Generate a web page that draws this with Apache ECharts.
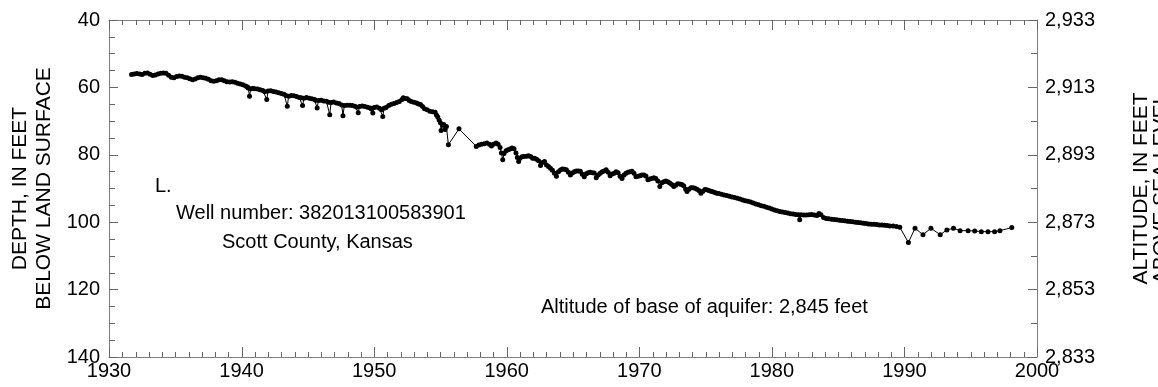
<!DOCTYPE html>
<html>
<head>
<meta charset="utf-8">
<title>Well 382013100583901 hydrograph</title>
<script src="https://cdn.jsdelivr.net/npm/echarts@6/dist/echarts.min.js"></script>
<style>
  html, body { margin: 0; padding: 0; background: #fff; }
  #chart { width: 1158px; height: 387px; }
</style>
</head>
<body>
<div id="chart"></div>
<script>
// water level measurements read off the hydrograph (year, depth in feet)
// 1932-1940: small seasonal swing
const yearsEarly = [
  1931.7, 1931.9, 1932.1, 1932.3, 1932.5, 1932.7, 1932.9, 1933.1, 1933.3, 1933.5,
  1933.7, 1933.9, 1934.1, 1934.3, 1934.5, 1934.7, 1934.9, 1935.1, 1935.3, 1935.5,
  1935.7, 1935.9, 1936.1, 1936.3, 1936.5, 1936.7, 1936.9, 1937.1, 1937.3, 1937.5,
  1937.7, 1937.9, 1938.1, 1938.3, 1938.5, 1938.7, 1938.9, 1939.1, 1939.3, 1939.5,
  1939.7, 1939.9, 1940.1, 1940.3, 1940.45
];
const depthsEarly = [
  56.2, 56.0, 55.9, 56.0, 56.2, 55.8, 55.7, 56.1, 56.5, 56.3,
  56.0, 55.8, 55.7, 55.8, 56.4, 57.0, 57.1, 56.8, 56.6, 56.7,
  57.0, 57.1, 57.4, 57.7, 57.5, 57.1, 57.0, 57.1, 57.3, 57.6,
  58.0, 58.2, 58.0, 57.7, 57.7, 58.0, 58.3, 58.4, 58.3, 58.5,
  58.8, 59.0, 59.2, 59.6, 59.9
];

// 1940-1958: pumping dips each summer, gap in the mid 1950s
const yearsMid = [
  1940.5, 1940.6, 1940.7, 1940.85, 1941.0, 1941.2, 1941.4, 1941.6, 1941.75, 1941.9,
  1942.0, 1942.2, 1942.4, 1942.6, 1942.8, 1943.0, 1943.2, 1943.35, 1943.45, 1943.55,
  1943.75, 1943.95, 1944.15, 1944.35, 1944.5, 1944.6, 1944.7, 1944.9, 1945.1, 1945.3,
  1945.5, 1945.6, 1945.7, 1945.8, 1946.0, 1946.2, 1946.4, 1946.55, 1946.65, 1946.75,
  1946.95, 1947.15, 1947.35, 1947.55, 1947.65, 1947.75, 1947.95, 1948.15, 1948.35, 1948.55,
  1948.7, 1948.8, 1948.9, 1949.1, 1949.3, 1949.5, 1949.7, 1949.8, 1949.9, 1950.0,
  1950.2, 1950.4, 1950.55, 1950.65, 1950.75, 1950.9, 1951.1, 1951.3, 1951.5, 1951.7,
  1951.9, 1952.1, 1952.2, 1952.35, 1952.5, 1952.65, 1952.8, 1953.0, 1953.2, 1953.35,
  1953.5, 1953.65, 1953.8, 1954.0, 1954.2, 1954.4, 1954.6, 1954.7, 1954.8, 1954.9,
  1955.0, 1955.05, 1955.15, 1955.25, 1955.35, 1955.45, 1955.6, 1956.4, 1957.7
];
const depthsMid = [
  60.2, 62.6, 60.4, 60.3, 60.4, 60.5, 60.7, 60.9, 61.3, 63.6,
  61.1, 61.0, 61.2, 61.4, 61.6, 61.8, 62.0, 62.4, 65.6, 62.6,
  62.4, 62.5, 62.7, 63.0, 63.1, 65.4, 63.2, 63.0, 63.2, 63.4,
  63.6, 63.8, 66.1, 63.9, 63.8, 64.0, 64.1, 64.4, 68.1, 64.5,
  64.3, 64.6, 64.8, 65.2, 68.4, 65.4, 65.3, 65.3, 65.4, 65.6,
  65.9, 67.5, 65.7, 65.5, 65.7, 65.9, 66.1, 66.4, 67.6, 66.0,
  65.8, 66.2, 66.6, 68.6, 66.2, 66.0, 65.4, 65.0, 64.8, 64.5,
  64.2, 63.6, 63.1, 63.3, 63.4, 63.9, 64.2, 64.4, 64.6, 64.9,
  65.1, 65.7, 66.3, 66.6, 67.1, 67.2, 67.4, 68.2, 68.8, 69.7,
  70.5, 72.8, 71.2, 71.0, 72.5, 71.6, 77.0, 72.3, 77.5
];

// 1958-1990: steady decline
const yearsLate = [
  1957.9, 1958.1, 1958.3, 1958.5, 1958.7, 1958.85, 1959.0, 1959.2, 1959.35, 1959.5,
  1959.6, 1959.7, 1959.8, 1959.95, 1960.1, 1960.25, 1960.4, 1960.55, 1960.7, 1960.8,
  1960.9, 1961.0, 1961.15, 1961.3, 1961.5, 1961.65, 1961.8, 1961.95, 1962.1, 1962.25,
  1962.4, 1962.55, 1962.7, 1962.85, 1963.0, 1963.15, 1963.3, 1963.45, 1963.6, 1963.75,
  1963.9, 1964.05, 1964.2, 1964.35, 1964.5, 1964.65, 1964.8, 1964.95, 1965.1, 1965.25,
  1965.4, 1965.55, 1965.7, 1965.85, 1966.0, 1966.15, 1966.3, 1966.45, 1966.6, 1966.75,
  1966.9, 1967.05, 1967.2, 1967.35, 1967.5, 1967.65, 1967.8, 1967.95, 1968.1, 1968.25,
  1968.4, 1968.55, 1968.7, 1968.85, 1969.0, 1969.15, 1969.3, 1969.45, 1969.6, 1969.75,
  1969.9, 1970.05, 1970.2, 1970.35, 1970.5, 1970.65, 1970.8, 1970.95, 1971.1, 1971.25,
  1971.4, 1971.55, 1971.7, 1971.85, 1972.0, 1972.15, 1972.3, 1972.45, 1972.6, 1972.75,
  1972.9, 1973.05, 1973.2, 1973.35, 1973.5, 1973.6, 1973.75, 1973.9, 1974.05, 1974.2,
  1974.35, 1974.5, 1974.65, 1974.8, 1974.95, 1975.1, 1975.25, 1975.4, 1975.55, 1975.7,
  1975.85, 1976.0, 1976.2, 1976.4, 1976.6, 1976.8, 1977.0, 1977.2, 1977.4, 1977.6,
  1977.8, 1978.0, 1978.2, 1978.4, 1978.6, 1978.8, 1979.0, 1979.2, 1979.4, 1979.6,
  1979.8, 1980.0, 1980.2, 1980.4, 1980.6, 1980.8, 1981.0, 1981.2, 1981.4, 1981.6,
  1981.8, 1982.0, 1982.1, 1982.2, 1982.4, 1982.6, 1982.8, 1983.0, 1983.2, 1983.4,
  1983.55, 1983.7, 1983.9, 1984.1, 1984.3, 1984.5, 1984.7, 1984.9, 1985.1, 1985.3,
  1985.5, 1985.7, 1985.9, 1986.1, 1986.3, 1986.5, 1986.7, 1986.9, 1987.1, 1987.3,
  1987.5, 1987.7, 1987.9, 1988.1, 1988.3, 1988.5, 1988.7, 1988.9, 1989.15, 1989.4,
  1989.65
];
const depthsLate = [
  77.1, 76.9, 76.7, 76.5, 76.9, 77.4, 76.9, 76.5, 76.9, 77.8,
  79.5, 81.5, 79.6, 78.8, 78.5, 78.3, 78.0, 78.2, 79.5, 80.8,
  82.0, 81.0, 80.6, 80.5, 80.4, 80.3, 80.5, 81.0, 81.0, 81.3,
  81.8, 83.2, 82.3, 82.0, 83.0, 83.5, 84.0, 84.6, 85.5, 86.4,
  85.0, 84.5, 84.2, 84.3, 84.4, 85.2, 86.0, 85.4, 85.0, 84.8,
  84.8, 84.9, 85.8, 86.5, 85.6, 85.3, 85.2, 85.3, 85.4, 86.8,
  86.0, 85.5, 85.0, 84.8, 84.4, 85.2, 86.2, 85.7, 85.5, 85.0,
  85.3, 86.4, 87.0, 86.0, 85.5, 85.2, 85.0, 84.9, 85.5, 86.5,
  86.4, 86.2, 86.0, 86.0, 86.3, 87.4, 87.2, 87.0, 86.8, 87.0,
  87.8, 89.4, 88.3, 88.0, 87.8, 88.0, 88.4, 88.8, 89.4, 89.0,
  88.6, 88.7, 88.8, 89.2, 90.2, 90.9, 90.2, 89.8, 89.8, 89.9,
  90.2, 90.6, 91.4, 90.8, 90.3, 90.4, 90.6, 90.8, 91.0, 91.2,
  91.4, 91.5, 91.7, 91.9, 92.1, 92.3, 92.5, 92.7, 92.9, 93.1,
  93.4, 93.6, 93.8, 94.0, 94.3, 94.6, 94.8, 95.1, 95.3, 95.6,
  95.8, 96.1, 96.4, 96.6, 96.8, 97.0, 97.1, 97.3, 97.5, 97.6,
  97.7, 97.8, 99.3, 97.8, 97.9, 97.9, 97.8, 97.7, 97.9, 98.0,
  97.4, 97.8, 98.6, 98.9, 99.0, 99.1, 99.2, 99.3, 99.4, 99.5,
  99.6, 99.7, 99.8, 99.9, 100.0, 100.1, 100.2, 100.3, 100.4, 100.5,
  100.6, 100.6, 100.7, 100.8, 100.8, 100.9, 101.0, 101.1, 101.1, 101.3,
  101.5
];

// 1990s: sparse readings
const yearsRecent = [
  1990.3, 1990.8, 1991.4, 1992.0, 1992.7, 1993.2, 1993.7, 1994.2, 1994.8, 1995.3,
  1995.8, 1996.3, 1996.8, 1997.2, 1998.1
];
const depthsRecent = [
  106.0, 101.8, 103.7, 101.8, 103.7, 102.3, 101.8, 102.5, 102.5, 102.6,
  102.8, 102.8, 102.8, 102.5, 101.6
];

// one tick mark per year along the top and bottom frame, longer each decade
const tickYears = [];
for (let y = 1930; y <= 2000; y++) tickYears.push(y);

// land surface altitude, so altitude = LAND_SURFACE - depth
const LAND_SURFACE = 2973;

const FONT = 'Liberation Sans, Arial, sans-serif';
const AXIS_GRAY = '#7f7f7f';
const TICK_GRAY = '#666';
const CLEAR = 'rgba(0,0,0,0)';
// grid lines are not drawn in the original, keep them fully transparent
const NO_GRID = { show: true, lineStyle: { color: CLEAR } };

const years = [].concat(yearsEarly, yearsMid, yearsLate, yearsRecent);
const depths = [].concat(depthsEarly, depthsMid, depthsLate, depthsRecent);
if (years.length !== depths.length) {
  console.error('year/depth length mismatch', years.length, depths.length);
}
const points = years.map((y, i) => [y, depths[i]]);

const chart = echarts.init(document.getElementById('chart'));

function yearAxis(position, labelFormatter) {
  return {
    type: 'value',
    position: position,
    min: 1930,
    max: 2000,
    interval: 10,
    axisLine: { show: true, lineStyle: { color: AXIS_GRAY } },
    axisTick: { show: false },
    axisLabel: { color: '#000', fontFamily: FONT, fontSize: 20, margin: 4, formatter: labelFormatter },
    splitLine: NO_GRID
  };
}

function depthAxis(position, minorSplit) {
  return {
    type: 'value',
    position: position,
    min: 40,
    max: 140,
    interval: 20,
    inverse: true,
    axisLine: { show: true, lineStyle: { color: AXIS_GRAY } },
    axisTick: { show: true, inside: true, length: 9, lineStyle: { color: TICK_GRAY } },
    minorTick: { show: true, splitNumber: minorSplit, length: 6, lineStyle: { color: TICK_GRAY } },
    splitLine: NO_GRID,
    nameLocation: 'middle'
  };
}

const leftAxis = depthAxis('left', 4);
leftAxis.name = 'DEPTH, IN FEET\nBELOW LAND SURFACE';
leftAxis.nameGap = 50;
leftAxis.nameTextStyle = { color: '#000', fontFamily: FONT, fontSize: 21, lineHeight: 24 };
leftAxis.axisLabel = { color: '#000', fontFamily: FONT, fontSize: 20, margin: 9 };

const rightAxis = depthAxis('right', 2);
rightAxis.name = 'ALTITUDE, IN FEET\nABOVE SEA LEVEL';
rightAxis.nameGap = 94;
rightAxis.nameTextStyle = { color: '#000', fontFamily: FONT, fontSize: 21, lineHeight: 20 };
rightAxis.axisLabel = {
  color: '#000', fontFamily: FONT, fontSize: 20, margin: 8,
  formatter: v => (LAND_SURFACE - v).toLocaleString('en-US')
};

// year ticks drawn inward from the bottom (140 ft) and top (40 ft) edges
function renderYearTick(params, api) {
  const year = api.value(0);
  const len = year % 10 === 0 ? 10 : 5;
  const bottom = api.coord([year, 140]);
  const top = api.coord([year, 40]);
  const x = Math.round(bottom[0]) + 0.5;
  const style = { stroke: TICK_GRAY, lineWidth: 1 };
  return {
    type: 'group',
    children: [
      { type: 'line', shape: { x1: x, y1: bottom[1], x2: x, y2: bottom[1] - len }, style: style },
      { type: 'line', shape: { x1: x, y1: top[1], x2: x, y2: top[1] + len }, style: style }
    ]
  };
}

chart.setOption({
  animation: false,
  grid: { left: 109, right: 121, top: 20, bottom: 30, outerBoundsMode: 'none' },
  xAxis: [yearAxis('bottom', v => String(v)), yearAxis('top', () => '')],
  yAxis: [leftAxis, rightAxis],
  graphic: [
    { type: 'text', left: 155, top: 176, style: { text: 'L.', font: '20px ' + FONT, fill: '#000' } },
    { type: 'text', left: 176, top: 203, style: { text: 'Well number: 382013100583901', font: '20px ' + FONT, fill: '#000' } },
    { type: 'text', left: 222, top: 232, style: { text: 'Scott County, Kansas', font: '20px ' + FONT, fill: '#000' } },
    { type: 'text', left: 541, top: 297, style: { text: 'Altitude of base of aquifer: 2,845 feet', font: '20px ' + FONT, fill: '#000' } }
  ],
  series: [
    {
      type: 'custom',
      xAxisIndex: 0,
      yAxisIndex: 0,
      data: tickYears.map(y => [y]),
      renderItem: renderYearTick,
      silent: true,
      clip: false,
      z: 1
    },
    {
      type: 'line',
      xAxisIndex: 0,
      yAxisIndex: 0,
      data: points,
      symbol: 'circle',
      symbolSize: 5,
      showAllSymbol: true,
      lineStyle: { color: '#000', width: 1 },
      itemStyle: { color: '#000' },
      z: 2
    }
  ]
});

window.addEventListener('resize', () => chart.resize());
</script>
</body>
</html>
